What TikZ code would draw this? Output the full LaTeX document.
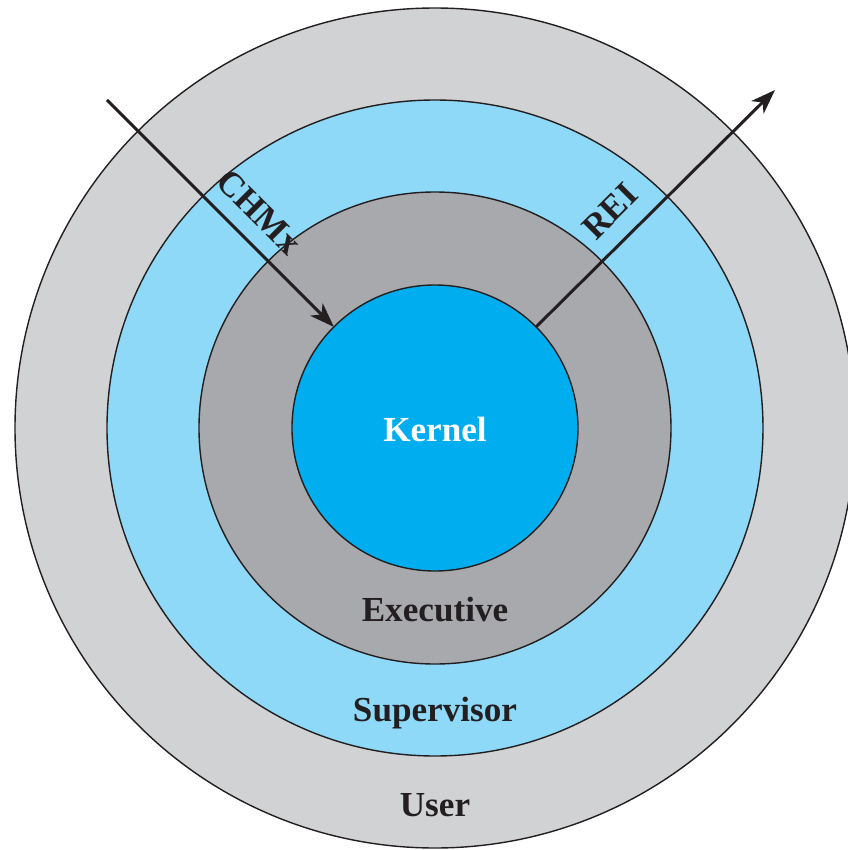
\documentclass[tikz,border=0pt]{standalone}
\usepackage{fontspec}
\setmainfont{Liberation Serif}
\usetikzlibrary{arrows.meta}

\definecolor{usergray}{HTML}{D1D2D4}
\definecolor{supblue}{HTML}{8ED8F8}
\definecolor{execgray}{HTML}{A7A9AC}
\definecolor{kernblue}{HTML}{00AEEF}
\definecolor{inkc}{HTML}{231F20}

\tikzset{
  ring/.style={circle, draw=inkc, line width=0.8pt, inner sep=0pt, outer sep=0pt},
  ringlabel/.style={anchor=base, text=inkc, font=\fontsize{20}{24}\selectfont\bfseries},
  gatelabel/.style={text=inkc, inner sep=1pt, font=\fontsize{20}{24}\selectfont\bfseries},
  gate/.style={draw=inkc, line width=1.7pt, -{Stealth[length=14pt, width=10pt, inset=4pt]}}
}

\begin{document}
\begin{tikzpicture}[x=0.02cm, y=0.02cm]
\useasboundingbox (-435,-422) rectangle (413,428);

% the rings, outermost first
\node[ring, fill=usergray, minimum size=840*0.02cm] (user) at (0,0) {};
\node[ring, fill=supblue, minimum size=656*0.02cm] (supervisor) at (0,0) {};
\node[ring, fill=execgray, minimum size=472*0.02cm] (executive) at (0,0) {};
\node[ring, fill=kernblue, minimum size=286*0.02cm] (kernel) at (0,0) {};

% ring names
\node[ringlabel, text=white] (kernlbl) at (0,-13) {Kernel};
\node[ringlabel] (execlbl) at (0,-193) {Executive};
\node[ringlabel] (suplbl) at (0,-293) {Supervisor};
\node[ringlabel] (userlbl) at (0,-388) {User};

% calls in and returns out
\coordinate (chmxin) at (-328,328);
\coordinate (reiout) at (340,338);
\draw[gate] (chmxin) -- (kernel.135);
\draw[gate] (kernel.45) -- (reiout);

\node[gatelabel, rotate=-45] (chmx) at (-176,216) {CHMx};
\node[gatelabel, rotate=45] (rei) at (175,217) {REI};

\end{tikzpicture}
\end{document}
